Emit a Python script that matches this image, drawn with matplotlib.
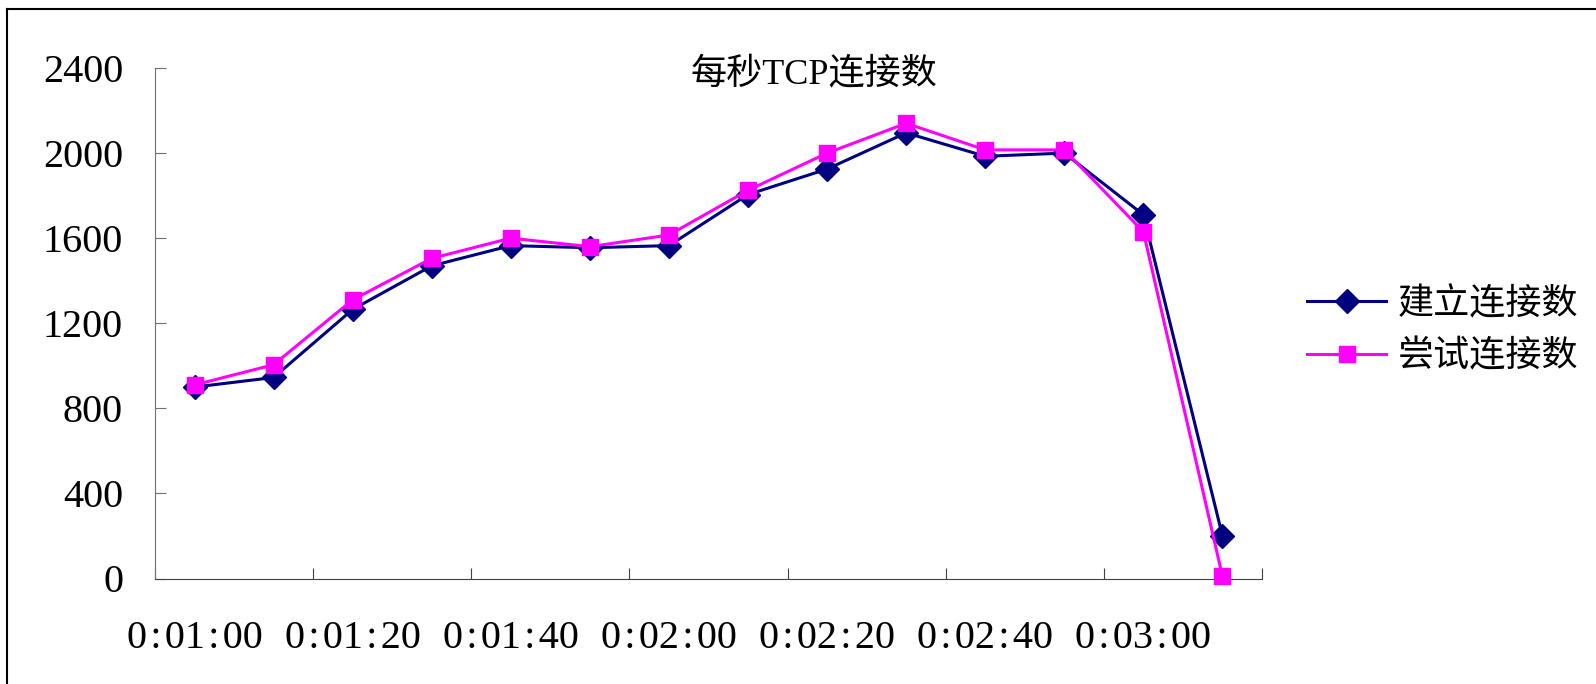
import matplotlib
matplotlib.use("Agg")
import matplotlib.pyplot as plt
from matplotlib.lines import Line2D

# per-10s samples, 0:01:00 .. 0:03:10
times = ["0:01:00", "0:01:10", "0:01:20", "0:01:30", "0:01:40", "0:01:50", "0:02:00",
         "0:02:10", "0:02:20", "0:02:30", "0:02:40", "0:02:50", "0:03:00", "0:03:10"]
established = [900, 945, 1265, 1470, 1565, 1555, 1565, 1805, 1925, 2095, 1985, 2000, 1710, 200]
attempted = [910, 1005, 1310, 1505, 1600, 1560, 1615, 1825, 2000, 2140, 2015, 2015, 1630, 10]
series_names = ["建立连接数", "尝试连接数"]
y_ticks = [0, 400, 800, 1200, 1600, 2000, 2400]
title = "每秒TCP连接数"

W, H = 1596, 684
mixed = ["Liberation Serif", "Noto Sans CJK SC", "DejaVu Serif"]
plt.rcParams["font.family"] = mixed

fig = plt.figure(figsize=(W / 100, H / 100), dpi=100)
ax = fig.add_axes([155 / W, 1 - 578.5 / H, (1262 - 155) / W, (578.5 - 68) / H])

x = list(range(len(times)))
ax.plot(x, established, color="#000080", lw=2.2, marker="D", ms=12,
        label=series_names[0], clip_on=False, zorder=3)
ax.plot(x, attempted, color="#FF00FF", lw=2.2, marker="s", ms=12,
        label=series_names[1], clip_on=False, zorder=4)

ax.set_xlim(-0.5, len(times) - 0.5)
ax.set_ylim(0, 2400)
for s in ["top", "right"]:
    ax.spines[s].set_visible(False)
ax.spines["left"].set_color("#707070")
ax.spines["bottom"].set_color("#404040")

ax.set_yticks(y_ticks)
ax.set_yticklabels([str(v) for v in y_ticks], fontsize=29)
ax.tick_params(axis="y", direction="in", length=8, color="#707070", pad=23)

# tick marks between categories, labels on every other category
# (hair spaces around the colons mimic the wider monospaced look)
ax.set_xticks([i - 0.5 for i in range(0, len(times) + 1, 2)])
ax.set_xticklabels([])
ax.set_xticks(x[::2], minor=True)
ax.set_xticklabels([t.replace(":", "\u200a:\u200a") for t in times[::2]],
                   minor=True, fontsize=29)
ax.tick_params(axis="x", which="major", direction="in", length=8, color="#404040")
ax.tick_params(axis="x", which="minor", length=0, pad=30)

fig.text(814 / W, 1 - 74 / H, title, fontsize=26, ha="center", va="center")

ax.legend(loc="center left", bbox_to_anchor=(1307 / W, 1 - 331 / H),
          bbox_transform=fig.transFigure, frameon=False,
          handlelength=2.2, handletextpad=0.3, labelspacing=0.5,
          borderpad=0, borderaxespad=0, prop={"family": mixed, "size": 26})

# outer frame (left and top edges visible)
fig.add_artist(Line2D([7 / W, 7 / W], [0, 1 - 9 / H], color="black", lw=1.5,
                      transform=fig.transFigure))
fig.add_artist(Line2D([7 / W, 1], [1 - 9 / H, 1 - 9 / H], color="black", lw=1.5,
                      transform=fig.transFigure))

fig.savefig("out.png", dpi=100, facecolor="white")
